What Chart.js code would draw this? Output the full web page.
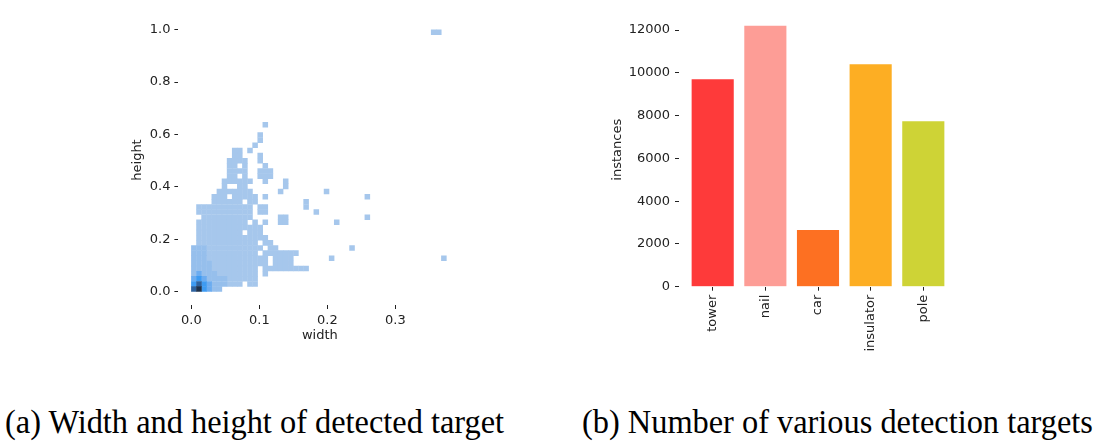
<!DOCTYPE html>
<html>
<head>
<meta charset="utf-8">
<script src="https://cdn.jsdelivr.net/npm/chart.js@4.4.1/dist/chart.umd.min.js"></script>
<style>
  body { margin: 0; background: #fff; width: 1097px; height: 441px; position: relative; overflow: hidden; }
  .panel { position: absolute; top: 0; }
  .caption {
    position: absolute; top: 405px; white-space: nowrap; color: #000;
    font-family: "Liberation Serif", "Times New Roman", serif; font-size: 34px; line-height: 34px;
    transform: scaleX(0.952); transform-origin: 0 0;
  }
</style>
</head>
<body>
<canvas id="hist" class="panel" style="left:120px" width="360" height="347"></canvas>
<canvas id="bars" class="panel" style="left:600px" width="380" height="360"></canvas>
<div class="caption" style="left:5px">(a) Width and height of detected target</div>
<div class="caption" style="left:582px">(b) Number of various detection targets</div>
<script>
// (a) width/height histogram: bin sizes and binned counts
// rows run from y bin 32 (top) down to y bin 0, columns are x bins 0..36
// '.' = empty, 1 = lowest count ... 6 = highest count
const xBinWidth = 0.0075;
const yBinWidth = 0.0196;
const histRows = [
  "..............1......................",
  ".....................................",
  ".............1.......................",
  ".............1.......................",
  "............1........................",
  "........11.1.........................",
  "........11...1.......................",
  ".......1111..1.......................",
  ".......11.1...1......................",
  ".......1111..111.....................",
  ".......11.1..111.....................",
  "......111111..1...1..................",
  "......1..11.......1..................",
  ".....1111111.....1...................",
  "....111.11111.1......................",
  "....111111.11.........1..............",
  ".11111111111.11.......1..............",
  ".11111111111.11.........1............",
  "..1111111111.....11..................",
  ".1111111111.1.1..11..................",
  ".1111111111111.......................",
  ".111111111.111.......................",
  ".11111111111111......................",
  ".111111111111.11.....................",
  "22211111111111.11....................",
  "2221111111111.1111111................",
  "222111111111111.1111.................",
  "222211111111111.1111.................",
  "2222111111111.111111111..............",
  "2322211111111.1......................",
  "3432222111111........................",
  "4543222111.11........................",
  "564322..............................."
];
// isolated bins further out: [x bin, y bin]
const sparseCells = [[26, 19], [34, 18], [34, 14], [28, 13], [31, 8], [27, 6], [49, 6], [47, 50], [48, 50]];
const levelColors = ['', 'rgb(166,199,236)', 'rgb(150,191,236)', 'rgb(108,172,240)', 'rgb(62,155,242)', 'rgb(46,98,158)', 'rgb(30,50,76)'];
const histXTicks = [0, 0.1, 0.2, 0.3];
const histYTicks = [0, 0.2, 0.4, 0.6, 0.8, 1.0];

// (b) instances per class
const categories = ['tower', 'nail', 'car', 'insulator', 'pole'];
const instances = [9700, 12200, 2650, 10400, 7740];
const barColors = ['rgb(254,58,58)', 'rgb(253,157,150)', 'rgb(253,112,34)', 'rgb(253,174,35)', 'rgb(206,211,54)'];
const barYTicks = [0, 2000, 4000, 6000, 8000, 10000, 12000];

const ink = '#222';
const font = { family: 'DejaVu Sans', size: 13 };
Chart.defaults.font.family = 'DejaVu Sans';

const cells = [];
histRows.forEach((row, r) => {
  const j = histRows.length - 1 - r;
  [...row].forEach((ch, i) => {
    if (ch !== '.') cells.push({ x: (i + 0.5) * xBinWidth, y: (j + 0.5) * yBinWidth, level: +ch });
  });
});
sparseCells.forEach(([i, j]) => cells.push({ x: (i + 0.5) * xBinWidth, y: (j + 0.5) * yBinWidth, level: 1 }));
cells.sort((a, b) => a.level - b.level);

function cellRadius(ctx) {
  const s = ctx.chart.scales;
  const w = Math.abs(s.x.getPixelForValue(xBinWidth) - s.x.getPixelForValue(0));
  const h = Math.abs(s.y.getPixelForValue(0) - s.y.getPixelForValue(yBinWidth));
  return (Math.max(w, h) + 0.4) / Math.SQRT2;
}

function tickGrid() {
  return { display: true, drawOnChartArea: false, drawTicks: true, tickLength: 4, tickColor: ink, tickWidth: 1 };
}

new Chart(document.getElementById('hist'), {
  type: 'scatter',
  data: {
    datasets: [{
      data: cells,
      pointStyle: 'rect',
      pointRadius: cellRadius,
      pointBackgroundColor: c => levelColors[c.raw.level],
      pointBorderWidth: 0
    }]
  },
  options: {
    responsive: false,
    animation: false,
    events: [],
    layout: { padding: { left: 0, top: 15, right: 18.6, bottom: 0 } },
    plugins: { legend: { display: false }, tooltip: { enabled: false } },
    scales: {
      x: {
        type: 'linear', min: -0.019, max: 0.397,
        afterBuildTicks: s => { s.ticks = histXTicks.map(v => ({ value: v })); },
        afterFit: s => { s.height = 42; },
        border: { display: false },
        grid: tickGrid(),
        ticks: { font, color: ink, padding: 4, maxRotation: 0, callback: v => v.toFixed(1) },
        title: { display: true, text: 'width', font, color: ink, padding: { top: 0, bottom: 4 } }
      },
      y: {
        type: 'linear', min: -0.051, max: 1.056,
        afterBuildTicks: s => { s.ticks = histYTicks.map(v => ({ value: v })); },
        afterFit: s => { s.width = 58.4; },
        border: { display: false },
        grid: tickGrid(),
        ticks: { font, color: ink, padding: 4, callback: v => v.toFixed(1) },
        title: { display: true, text: 'height', font, color: ink, padding: { top: 10, bottom: 0 } }
      }
    }
  }
});

new Chart(document.getElementById('bars'), {
  type: 'bar',
  data: {
    datasets: [{
      data: instances.map((v, i) => ({ x: i, y: v })),
      backgroundColor: barColors,
      categoryPercentage: 1,
      barPercentage: 0.8
    }]
  },
  options: {
    responsive: false,
    animation: false,
    events: [],
    layout: { padding: { left: 0, top: 1.3, right: 23, bottom: 0 } },
    plugins: { legend: { display: false }, tooltip: { enabled: false } },
    scales: {
      x: {
        type: 'linear', min: -0.64, max: 4.64, offset: false,
        afterBuildTicks: s => { s.ticks = categories.map((c, i) => ({ value: i })); },
        afterFit: s => { s.height = 73.3; },
        border: { display: false },
        grid: Object.assign(tickGrid(), { offset: false }),
        ticks: { font, color: ink, padding: 4, autoSkip: false, minRotation: 90, maxRotation: 90, callback: v => categories[v] }
      },
      y: {
        min: 0, max: 12810,
        afterBuildTicks: s => { s.ticks = barYTicks.map(v => ({ value: v })); },
        afterFit: s => { s.width = 79; },
        border: { display: false },
        grid: tickGrid(),
        ticks: { font, color: ink, padding: 5, callback: v => String(v) },
        title: { display: true, text: 'instances', font, color: ink, padding: { top: 10, bottom: 0 } }
      }
    }
  }
});
</script>
</body>
</html>
